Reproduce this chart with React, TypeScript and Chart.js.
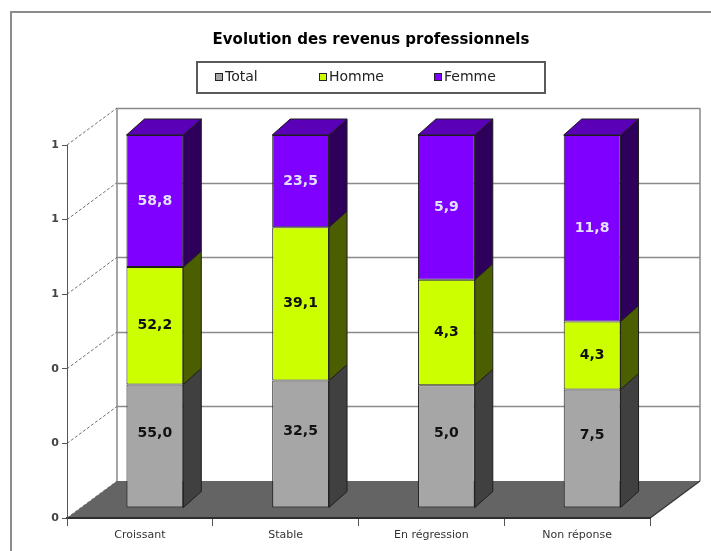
import React, { useEffect, useRef } from "react";
import { Chart, registerables } from "chart.js";

Chart.register(...registerables);

const TITLE = "Evolution des revenus professionnels";
const categories = ["Croissant", "Stable", "En régression", "Non réponse"];
const seriesNames = ["Total", "Homme", "Femme"];
const totalValues = [55.0, 32.5, 5.0, 7.5];
const hommeValues = [52.2, 39.1, 4.3, 4.3];
const femmeValues = [58.8, 23.5, 5.9, 11.8];
const yTickStep = 0.2;

const FRONT = ["#a6a6a6", "#ccff00", "#8000ff"];
const SIDE = ["#404040", "#4b5f00", "#2e005c"];
const TOP = ["#7a7a7a", "#9ac000", "#5a00b6"];
const LABEL_COLOR = ["#111111", "#111111", "#e2e2ff"];
const LABEL_SHIFT = [-13, 0, 0];

const BAR_SHIFT = { x: 15, y: -10 };
const BAR_DEPTH = { x: 18, y: -16 };
const WALL = { x: 50, y: -37 };
const FONT = '"DejaVu Sans", Verdana, sans-serif';

const fmt = (v: number) => v.toFixed(1).replace(".", ",");

const scenePlugin = {
  id: "scene",
  beforeDraw(chart: any) {
    const { ctx, chartArea: a, scales, width, height } = chart;
    const y = scales.y;
    ctx.save();
    ctx.fillStyle = "#ffffff";
    ctx.fillRect(0, 0, width, height);

    // outer frame (top + left)
    ctx.strokeStyle = "#8c8c8c";
    ctx.lineWidth = 2;
    ctx.beginPath();
    ctx.moveTo(11, height);
    ctx.lineTo(11, 12);
    ctx.lineTo(width, 12);
    ctx.stroke();

    // title
    ctx.fillStyle = "#000";
    ctx.font = `bold 15px ${FONT}`;
    ctx.textAlign = "center";
    ctx.textBaseline = "middle";
    ctx.fillText(TITLE, 371, 40);

    // legend
    ctx.strokeStyle = "#5a5a5a";
    ctx.lineWidth = 2;
    ctx.strokeRect(197, 62, 348, 31);
    const legendX = [215, 319, 434];
    ctx.font = `14px ${FONT}`;
    ctx.textAlign = "left";
    seriesNames.forEach((name, k) => {
      const mx = legendX[k];
      ctx.fillStyle = FRONT[k];
      ctx.fillRect(mx, 73, 8, 8);
      ctx.strokeStyle = "#222";
      ctx.lineWidth = 1;
      ctx.strokeRect(mx + 0.5, 73.5, 7, 7);
      ctx.fillStyle = "#222";
      ctx.fillText(name, mx + 10, 77.5);
    });

    // back wall
    const bl = a.left + WALL.x;
    const br = a.right + WALL.x;
    const topBack = y.getPixelForValue(1) + WALL.y;
    const floorBack = a.bottom + WALL.y;
    ctx.strokeStyle = "#8a8a8a";
    ctx.lineWidth = 1.5;
    const ticks = y.ticks.map((t: any) => t.value);
    ticks.forEach((v: number) => {
      if (v <= 0) return;
      const py = Math.round(y.getPixelForValue(v) + WALL.y) + 0.5;
      ctx.beginPath();
      ctx.moveTo(bl, py);
      ctx.lineTo(br, py);
      ctx.stroke();
    });
    ctx.beginPath();
    ctx.moveTo(bl, floorBack);
    ctx.lineTo(bl, topBack);
    ctx.moveTo(br, topBack);
    ctx.lineTo(br, floorBack);
    ctx.stroke();

    // dashed diagonals on the side wall
    ctx.strokeStyle = "#6e6e6e";
    ctx.lineWidth = 1;
    ctx.setLineDash([3, 2]);
    ticks.forEach((v: number) => {
      const py = y.getPixelForValue(v);
      ctx.beginPath();
      ctx.moveTo(a.left, py);
      ctx.lineTo(bl, py + WALL.y);
      ctx.stroke();
    });
    ctx.setLineDash([]);

    // floor
    ctx.fillStyle = "#646464";
    ctx.beginPath();
    ctx.moveTo(a.left, a.bottom);
    ctx.lineTo(a.right, a.bottom);
    ctx.lineTo(br, floorBack);
    ctx.lineTo(bl, floorBack);
    ctx.closePath();
    ctx.fill();
    ctx.strokeStyle = "#3a3a3a";
    ctx.lineWidth = 1.5;
    ctx.beginPath();
    ctx.moveTo(a.left, a.bottom);
    ctx.lineTo(a.right, a.bottom);
    ctx.lineTo(br, floorBack);
    ctx.stroke();
    ctx.restore();
  },
  beforeDatasetsDraw(chart: any) {
    chart.ctx.save();
    chart.ctx.translate(BAR_SHIFT.x, BAR_SHIFT.y);
  },
  afterDatasetsDraw(chart: any) {
    const ctx = chart.ctx;
    ctx.restore();
    ctx.save();
    const n = chart.data.datasets.length;
    for (let k = 0; k < n; k++) {
      const meta = chart.getDatasetMeta(k);
      meta.data.forEach((el: any) => {
        const p = el.getProps(["x", "y", "base", "width"], true);
        const left = p.x - p.width / 2 + BAR_SHIFT.x;
        const right = p.x + p.width / 2 + BAR_SHIFT.x;
        const top = Math.min(p.y, p.base) + BAR_SHIFT.y;
        const bottom = Math.max(p.y, p.base) + BAR_SHIFT.y;
        ctx.strokeStyle = "#1e1e1e";
        ctx.lineWidth = 1;
        ctx.fillStyle = SIDE[k];
        ctx.beginPath();
        ctx.moveTo(right, top);
        ctx.lineTo(right + BAR_DEPTH.x, top + BAR_DEPTH.y);
        ctx.lineTo(right + BAR_DEPTH.x, bottom + BAR_DEPTH.y);
        ctx.lineTo(right, bottom);
        ctx.closePath();
        ctx.fill();
        ctx.stroke();
        if (k === n - 1) {
          ctx.fillStyle = TOP[k];
          ctx.beginPath();
          ctx.moveTo(left, top);
          ctx.lineTo(left + BAR_DEPTH.x, top + BAR_DEPTH.y);
          ctx.lineTo(right + BAR_DEPTH.x, top + BAR_DEPTH.y);
          ctx.lineTo(right, top);
          ctx.closePath();
          ctx.fill();
          ctx.stroke();
        }
      });
    }
    // value labels
    const raw = [totalValues, hommeValues, femmeValues];
    ctx.font = `bold 14px ${FONT}`;
    ctx.textAlign = "center";
    ctx.textBaseline = "middle";
    for (let k = 0; k < n; k++) {
      const meta = chart.getDatasetMeta(k);
      meta.data.forEach((el: any, i: number) => {
        const p = el.getProps(["x", "y", "base"], true);
        const cx = p.x + BAR_SHIFT.x;
        const cy = (p.y + p.base) / 2 + BAR_SHIFT.y + LABEL_SHIFT[k];
        ctx.fillStyle = LABEL_COLOR[k];
        ctx.fillText(fmt(raw[k][i]), cx, cy);
      });
    }
    ctx.restore();
  },
};

export default function App() {
  const ref = useRef<HTMLCanvasElement>(null);
  useEffect(() => {
    const canvas = ref.current!;
    const raw = [totalValues, hommeValues, femmeValues];
    const sums = categories.map((_, i) => raw.reduce((s, arr) => s + arr[i], 0));
    const chart = new Chart(canvas, {
      type: "bar",
      data: {
        labels: categories,
        datasets: raw.map((vals, k) => ({
          label: seriesNames[k],
          data: vals.map((v, i) => v / sums[i]),
          backgroundColor: FRONT[k],
          borderColor: "#1e1e1e",
          borderWidth: 1,
          borderSkipped: false,
          clip: false,
          barPercentage: 0.39,
          categoryPercentage: 1,
        })),
      } as any,
      options: {
        responsive: false,
        animation: false,
        devicePixelRatio: 1,
        events: [],
        layout: { padding: { left: 37, right: 61, top: 145, bottom: 0 } },
        plugins: {
          legend: { display: false },
          title: { display: false },
          tooltip: { enabled: false },
        },
        scales: {
          x: {
            stacked: true,
            grid: { offset: true, drawOnChartArea: false, drawTicks: true, tickLength: 8, color: "#555", lineWidth: 1 },
            border: { display: true, color: "#2e2e2e", width: 2 },
            ticks: { font: { family: FONT, size: 11 }, color: "#333", padding: 3, maxRotation: 0 },
            afterFit: (s: any) => {
              s.height = 33;
            },
          },
          y: {
            stacked: true,
            min: 0,
            max: 1,
            ticks: {
              stepSize: yTickStep,
              font: { family: FONT, size: 11, weight: "bold" },
              color: "#444",
              padding: 3,
              callback: (v: any) => String(Math.round(Number(v))),
            },
            grid: { drawOnChartArea: false, drawTicks: true, tickLength: 5, color: "#555" },
            border: { display: true, color: "#555", width: 1 },
            afterFit: (s: any) => {
              s.width = 30;
            },
          },
        },
      } as any,
      plugins: [scenePlugin],
    });
    return () => chart.destroy();
  }, []);
  return (
    <div style={{ position: "absolute", left: 0, top: 0, width: 711, height: 551, background: "#fff" }}>
      <canvas ref={ref} width={711} height={551} style={{ display: "block" }} />
    </div>
  );
}
